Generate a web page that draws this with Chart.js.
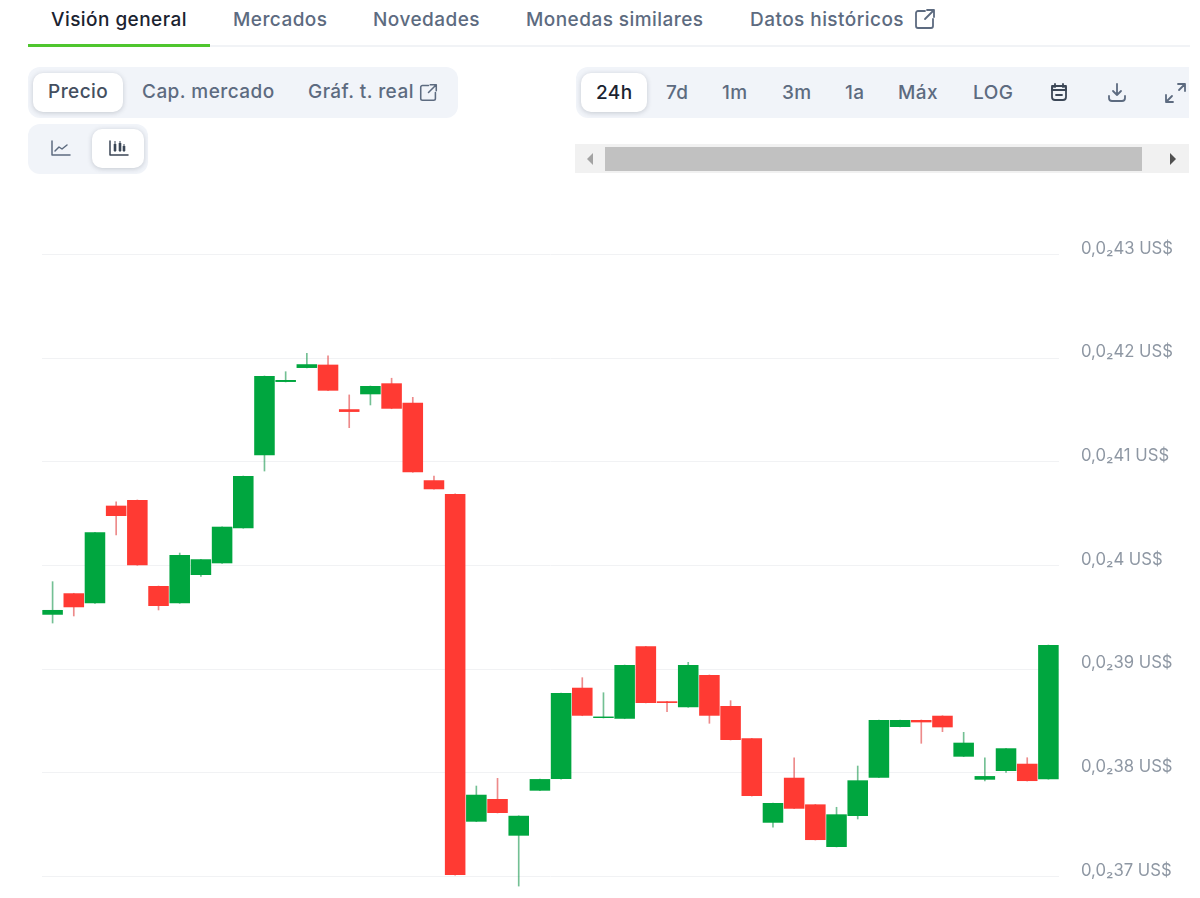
<!DOCTYPE html>
<html lang="es">
<head>
<meta charset="utf-8">
<title>Precio 24h</title>
<script src="https://cdn.jsdelivr.net/npm/chart.js@4"></script>
<style>
    html, body { margin: 0; background: #fff; width: 1200px; height: 898px; overflow: hidden; font-family: Inter, "Noto Sans", sans-serif; }
    .txt { position: absolute; white-space: nowrap; line-height: 24px; font-size: 19px; letter-spacing: 0.45px; font-weight: 500; color: #5d6b80; transform: translateY(-50%); }
    .dark { color: #1b2330; }
    .box { position: absolute; }
    .group { background: #f1f4f9; border-radius: 12px; }
    .on { background: #fff; border-radius: 10px; box-shadow: 0 1px 5px rgba(40, 50, 70, 0.22); }
    svg { position: absolute; fill: none; stroke: #5d6b80; stroke-width: 1.8; stroke-linecap: round; stroke-linejoin: round; }
    #chartWrap { position: absolute; left: 0; top: 200px; width: 1200px; height: 698px; }
</style>
</head>
<body>

<div class="txt dark" style="left:51px;top:20px">Visión general</div>
<div class="txt" style="left:233px;top:20px">Mercados</div>
<div class="txt" style="left:373px;top:20px">Novedades</div>
<div class="txt" style="left:526px;top:20px">Monedas similares</div>
<div class="txt" style="left:750px;top:20px">Datos históricos</div>
<svg style="left:914px;top:8px" width="22" height="22" viewBox="0 0 22 22"><path d="M11 3H4a2 2 0 0 0-2 2v13a2 2 0 0 0 2 2h13a2 2 0 0 0 2-2v-7M13 2h7v7M20 2l-9 9"/></svg>
<div class="box" style="left:28px;top:45px;width:1162px;height:2px;background:#f1f3f6"></div>
<div class="box" style="left:28px;top:44px;width:182px;height:3px;background:#4fc62f"></div>

<div class="box group" style="left:28px;top:67px;width:430px;height:51px"></div>
<div class="box on" style="left:33px;top:73px;width:90px;height:39px"></div>
<div class="txt dark" style="left:48px;top:92px;color:#444f5f">Precio</div>
<div class="txt" style="left:142px;top:92px">Cap. mercado</div>
<div class="txt" style="left:308px;top:92px">Gráf. t. real</div>
<svg style="left:419px;top:83px" width="19" height="19" viewBox="0 0 22 22"><path d="M11 3H4a2 2 0 0 0-2 2v13a2 2 0 0 0 2 2h13a2 2 0 0 0 2-2v-7M13 2h7v7M20 2l-9 9"/></svg>

<div class="box group" style="left:28px;top:124px;width:120px;height:50px"></div>
<div class="box on" style="left:92px;top:129px;width:52px;height:39px"></div>
<svg style="left:50px;top:139px" width="21" height="19" viewBox="0 0 21 19"><path d="M2 2v14h18M5 12l4-4 3 2 5-4" stroke-width="1.5"/></svg>
<svg style="left:108px;top:139px" width="21" height="19" viewBox="0 0 21 19"><path d="M2 2v14h18" stroke="#3b4656" stroke-width="1.5"/><path d="M7 5v7M12 4v8M16 7v5" stroke="#3b4656" stroke-width="2.6" stroke-linecap="butt"/><path d="M7 2v11M12 2v11M16 5v8" stroke="#3b4656" stroke-width="1" stroke-linecap="butt"/></svg>

<div class="box group" style="left:576px;top:67px;width:613px;height:51px;border-radius:12px 0 0 12px"></div>
<div class="box on" style="left:581px;top:73px;width:66px;height:39px"></div>
<div class="txt dark" style="left:596px;top:93px">24h</div>
<div class="txt" style="left:666px;top:93px">7d</div>
<div class="txt" style="left:722px;top:93px">1m</div>
<div class="txt" style="left:782px;top:93px">3m</div>
<div class="txt" style="left:845px;top:93px">1a</div>
<div class="txt" style="left:898px;top:93px">Máx</div>
<div class="txt" style="left:973px;top:93px">LOG</div>
<svg style="left:1049px;top:82px" width="20" height="21" viewBox="0 0 20 21"><rect x="3" y="4" width="14" height="14" rx="3" stroke="#3b4656"/><path d="M3 4h14v4H3zM6 2v3M14 2v3M7 13h6" stroke="#3b4656"/></svg>
<svg style="left:1107px;top:81px" width="20" height="22" viewBox="0 0 20 22"><path d="M10 3v11M6 10l4 4 4-4M2 15v2a3 3 0 0 0 3 3h10a3 3 0 0 0 3-3v-2"/></svg>
<svg style="left:1164px;top:81px" width="23" height="23" viewBox="0 0 23 23"><path d="M14 3h7v7M21 3l-6 6M2 14v7h7M2 21l6-6"/></svg>

<div class="box" style="left:575px;top:144px;width:614px;height:29px;background:#f1f1f1"></div>
<div class="box" style="left:605px;top:147px;width:537px;height:24px;background:#c1c1c1"></div>
<svg style="left:585px;top:152px;stroke:none;fill:#a3a3a3" width="10" height="14" viewBox="0 0 10 14"><path d="M8 1v12L2 7z"/></svg>
<svg style="left:1168px;top:152px;stroke:none;fill:#505050" width="10" height="14" viewBox="0 0 10 14"><path d="M2 1v12l6-6z"/></svg>

<div id="chartWrap"><canvas id="candleChart"></canvas></div>

<script>
// prices in units of 0.0001 US$ (0,0₂41 = 41), one candle per half hour
const candleLabels = ['1','2','3','4','5','6','7','8','9','10','11','12','13','14','15','16','17','18','19','20','21','22','23','24','25','26','27','28','29','30','31','32','33','34','35','36','37','38','39','40','41','42','43','44','45','46','47','48'];
const opens = [39.525,39.732,39.635,40.577,40.632,39.802,39.635,39.908,40.021,40.359,41.063,41.770,41.905,41.937,41.507,41.651,41.757,41.570,40.822,40.690,37.529,37.748,37.394,37.828,37.940,38.821,38.529,38.522,39.220,38.690,38.632,38.944,38.645,38.333,37.519,37.953,37.696,37.285,37.584,37.953,38.442,38.510,38.551,38.156,37.934,38.018,38.088,37.938];
const closes = [39.571,39.597,40.320,40.477,40.002,39.609,40.101,40.060,40.374,40.863,41.828,41.789,41.941,41.686,41.481,41.731,41.512,40.899,40.735,37.014,37.789,37.613,37.586,37.940,38.770,38.551,38.543,39.040,38.674,38.674,39.040,38.551,38.317,37.776,37.709,37.654,37.352,37.600,37.928,38.510,38.510,38.487,38.439,38.291,37.969,38.237,37.921,39.233];
const highs = [39.844,39.732,40.320,40.615,40.632,39.802,40.120,40.060,40.374,40.863,41.828,41.869,42.047,42.021,41.645,41.731,41.806,41.622,40.863,40.690,37.873,37.947,37.586,37.940,38.770,38.918,38.773,39.040,39.220,38.690,39.066,38.944,38.696,38.333,37.709,38.146,37.696,37.668,38.066,38.510,38.510,38.510,38.551,38.391,38.146,38.237,38.146,39.233];
const lows = [39.445,39.513,39.635,40.294,40.002,39.571,39.635,39.894,40.021,40.359,40.911,41.770,41.905,41.686,41.329,41.548,41.512,40.899,40.735,37.014,37.529,37.613,36.908,37.828,37.940,38.551,38.529,38.522,38.674,38.590,38.632,38.478,38.317,37.776,37.475,37.654,37.352,37.285,37.555,37.953,38.442,38.285,38.397,38.156,37.921,38.005,37.921,37.938];
const tickValues = [37, 38, 39, 40, 41, 42, 43];
const tickLabels = ['0,0₂37 US$','0,0₂38 US$','0,0₂39 US$','0,0₂4 US$','0,0₂41 US$','0,0₂42 US$','0,0₂43 US$'];

const greenBody = '#00a63f';
const redBody = '#ff3a33';
const greenWick = 'rgba(0, 140, 60, 0.55)';
const redWick = 'rgba(225, 60, 60, 0.6)';

const isUp = opens.map((o, i) => closes[i] >= o);

new Chart(document.getElementById('candleChart'), {
    type: 'bar',
    data: {
        labels: candleLabels,
        datasets: [
            {
                label: 'Mecha',
                data: lows.map((l, i) => [l, highs[i]]),
                backgroundColor: isUp.map(up => up ? greenWick : redWick),
                barThickness: 1,
                grouped: false,
                order: 2
            },
            {
                label: 'Precio',
                data: opens.map((o, i) => [o, closes[i]]),
                backgroundColor: isUp.map(up => up ? greenBody : redBody),
                barPercentage: 0.97,
                categoryPercentage: 1,
                grouped: false,
                order: 1
            }
        ]
    },
    options: {
        responsive: true,
        maintainAspectRatio: false,
        animation: false,
        layout: { padding: { left: 42 } },
        plugins: { legend: { display: false }, tooltip: { enabled: false } },
        scales: {
            x: { display: false },
            y: {
                position: 'right',
                min: 36.793,
                max: 43.525,
                afterBuildTicks: scale => { scale.ticks = tickValues.map(v => ({ value: v })); },
                afterFit: scale => {
                    scale.width = 141;
                    scale.paddingTop = 0;
                    scale.paddingBottom = 0;
                },
                border: { display: false },
                grid: { color: '#f1f2f4', lineWidth: 1, drawTicks: false },
                ticks: {
                    // empty first line nudges the text down a little
                    callback: (value, index) => ['', tickLabels[index]],
                    align: 'end',
                    padding: 22,
                    color: '#8e97a3',
                    font: { family: 'Inter', size: 16.7, lineHeight: 0.3 }
                }
            }
        }
    }
});
</script>
</body>
</html>
